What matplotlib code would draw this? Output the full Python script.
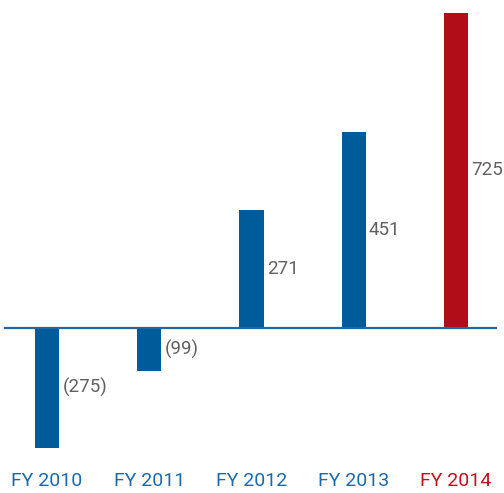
import matplotlib
matplotlib.use('Agg')
import matplotlib.pyplot as plt

years = ['FY 2010', 'FY 2011', 'FY 2012', 'FY 2013', 'FY 2014']
values = [-275, -99, 271, 451, 725]
value_labels = ['(275)', '(99)', '271', '451', '725']

BLUE = '#005b9b'
RED = '#b00d17'
bar_colors = [BLUE, BLUE, BLUE, BLUE, RED]
tick_colors = ['#1c69ac', '#1c69ac', '#1c69ac', '#1c69ac', '#c0111d']

plt.rcParams['font.family'] = ['Roboto', 'DejaVu Sans']

fig = plt.figure(figsize=(5.04, 4.93), dpi=100)
ax = fig.add_axes([0, 28 / 493, 1, 465 / 493])

x = range(len(years))
ax.bar(x, values, width=0.235, color=bar_colors, zorder=2)

# zero baseline
ax.axhline(0, xmin=5 / 504, xmax=496 / 504, color='#1f68a8', linewidth=1.6, zorder=3)

for i, (v, lab) in enumerate(zip(values, value_labels)):
    ax.text(i + 0.15, v / 2, lab, ha='left', va='center',
            fontsize=13.5, color='#606060')

ax.set_xlim(-0.46, 4.47)
ax.set_ylim(-315, 754)
ax.set_xticks(list(x))
ax.set_xticklabels(years, fontsize=14)
for t, c in zip(ax.get_xticklabels(), tick_colors):
    t.set_color(c)
ax.tick_params(axis='x', length=0, pad=5)
ax.set_yticks([])
for s in ax.spines.values():
    s.set_visible(False)

fig.savefig('out.png', dpi=100)
